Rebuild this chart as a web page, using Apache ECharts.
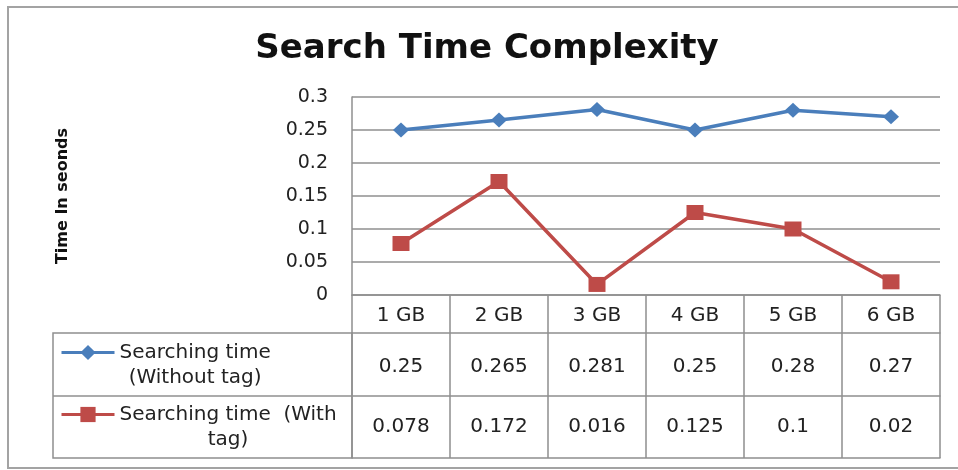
<!DOCTYPE html>
<html>
<head>
<meta charset="utf-8">
<script src="https://cdn.jsdelivr.net/npm/echarts@6/dist/echarts.min.js"></script>
<style>html,body{margin:0;padding:0;background:#fff}#c{width:958px;height:470px}</style>
</head>
<body>
<div id="c"></div>
<script>
// ---- data ----
const categories = ['1 GB', '2 GB', '3 GB', '4 GB', '5 GB', '6 GB'];
const withoutTag = [0.25, 0.265, 0.281, 0.25, 0.28, 0.27];
const withTag = [0.078, 0.172, 0.016, 0.125, 0.1, 0.02];
const seriesNames = ['Searching time (Without tag)', 'Searching time  (With tag)'];
const legendLines = [['Searching time', '(Without tag)'], ['Searching time  (With', 'tag)']];
const titleText = 'Search Time Complexity';
const yAxisName = 'Time In seonds';

// ---- style ----
const FONT = 'DejaVu Sans';
const lineCol = '#8f8f8f';
const textCol = '#222';
const blue = '#4A7EBB';
const red = '#BE4B48';

const chart = echarts.init(document.getElementById('c'), null, { renderer: 'canvas' });

function tableAxis(offset, tickLen, margin, labels) {
  const axisLabel = {
    show: !!labels, interval: 0, margin: margin, verticalAlign: 'middle',
    fontFamily: FONT, fontSize: 20, color: textCol
  };
  if (labels) axisLabel.formatter = function (v, i) { return String(labels[i]); };
  return {
    type: 'category', data: categories, position: 'bottom', offset: offset, gridIndex: 0,
    boundaryGap: true,
    axisLine: { show: true, onZero: false, lineStyle: { color: lineCol, width: 1.5 } },
    axisTick: { show: tickLen > 0, length: tickLen, interval: 0, alignWithLabel: false, lineStyle: { color: lineCol, width: 1.5 } },
    axisLabel: axisLabel,
    splitLine: { show: false }
  };
}

const legendTops = [317.5, 379.5];
const legendLineColors = [blue, red];

const option = {
  backgroundColor: '#fff',
  animation: false,
  title: {
    text: titleText, left: 487, top: 32, padding: 0, textAlign: 'center',
    textStyle: { fontFamily: FONT, fontWeight: 'bold', fontSize: 34, color: '#111' }
  },
  grid: { left: 352, right: 18, top: 97, bottom: 175, containLabel: false },
  xAxis: [
    tableAxis(0, 38, 21, categories),
    tableAxis(38, 63, 34, withoutTag),
    tableAxis(101, 62, 31, withTag),
    tableAxis(163, 0, 10, null)
  ],
  yAxis: {
    type: 'value', min: 0, max: 0.3, interval: 0.05,
    axisLine: { show: true, lineStyle: { color: lineCol, width: 1.5 } },
    axisTick: { show: false },
    splitLine: { show: true, lineStyle: { color: lineCol, width: 1.5 } },
    axisLabel: { margin: 24, fontFamily: FONT, fontSize: 19, color: textCol },
    name: yAxisName, nameLocation: 'middle', nameRotate: 90, nameGap: 281,
    nameTextStyle: { fontFamily: FONT, fontWeight: 'bold', fontSize: 16, color: '#111' }
  },
  legend: seriesNames.map(function (name, k) {
    return {
      data: [name], left: 60, top: legendTops[k], orient: 'vertical', padding: 0,
      itemWidth: 53, itemHeight: 19, itemGap: 0, selectedMode: false,
      lineStyle: { width: 3, color: legendLineColors[k] },
      formatter: function () {
        return ['{a| }'].concat(legendLines[k].map(function (s) { return '{a|' + s + '}'; })).join('\n');
      },
      textStyle: {
        fontFamily: FONT, fontSize: 20, color: textCol,
        rich: { a: { fontFamily: FONT, fontSize: 20, lineHeight: 25, align: 'center', color: textCol } }
      }
    };
  }),
  series: [
    {
      name: seriesNames[0], type: 'line', data: withoutTag, xAxisIndex: 0, yAxisIndex: 0,
      symbol: 'diamond', symbolSize: [16, 15],
      lineStyle: { color: blue, width: 3.5 }, itemStyle: { color: blue }
    },
    {
      name: seriesNames[1], type: 'line', data: withTag, xAxisIndex: 0, yAxisIndex: 0,
      symbol: 'rect', symbolSize: [17, 15],
      lineStyle: { color: red, width: 3.5 }, itemStyle: { color: red }
    }
  ],
  graphic: [
    { type: 'rect', shape: { x: 8, y: 7, width: 970, height: 461 }, style: { fill: 'none', stroke: '#a3a3a3', lineWidth: 2 }, silent: true },
    { type: 'rect', shape: { x: 53, y: 333, width: 299, height: 125 }, style: { fill: 'none', stroke: lineCol, lineWidth: 1.5 }, silent: true },
    { type: 'line', shape: { x1: 53, y1: 396, x2: 352, y2: 396 }, style: { stroke: lineCol, lineWidth: 1.5 }, silent: true }
  ]
};

chart.setOption(option);
</script>
</body>
</html>
